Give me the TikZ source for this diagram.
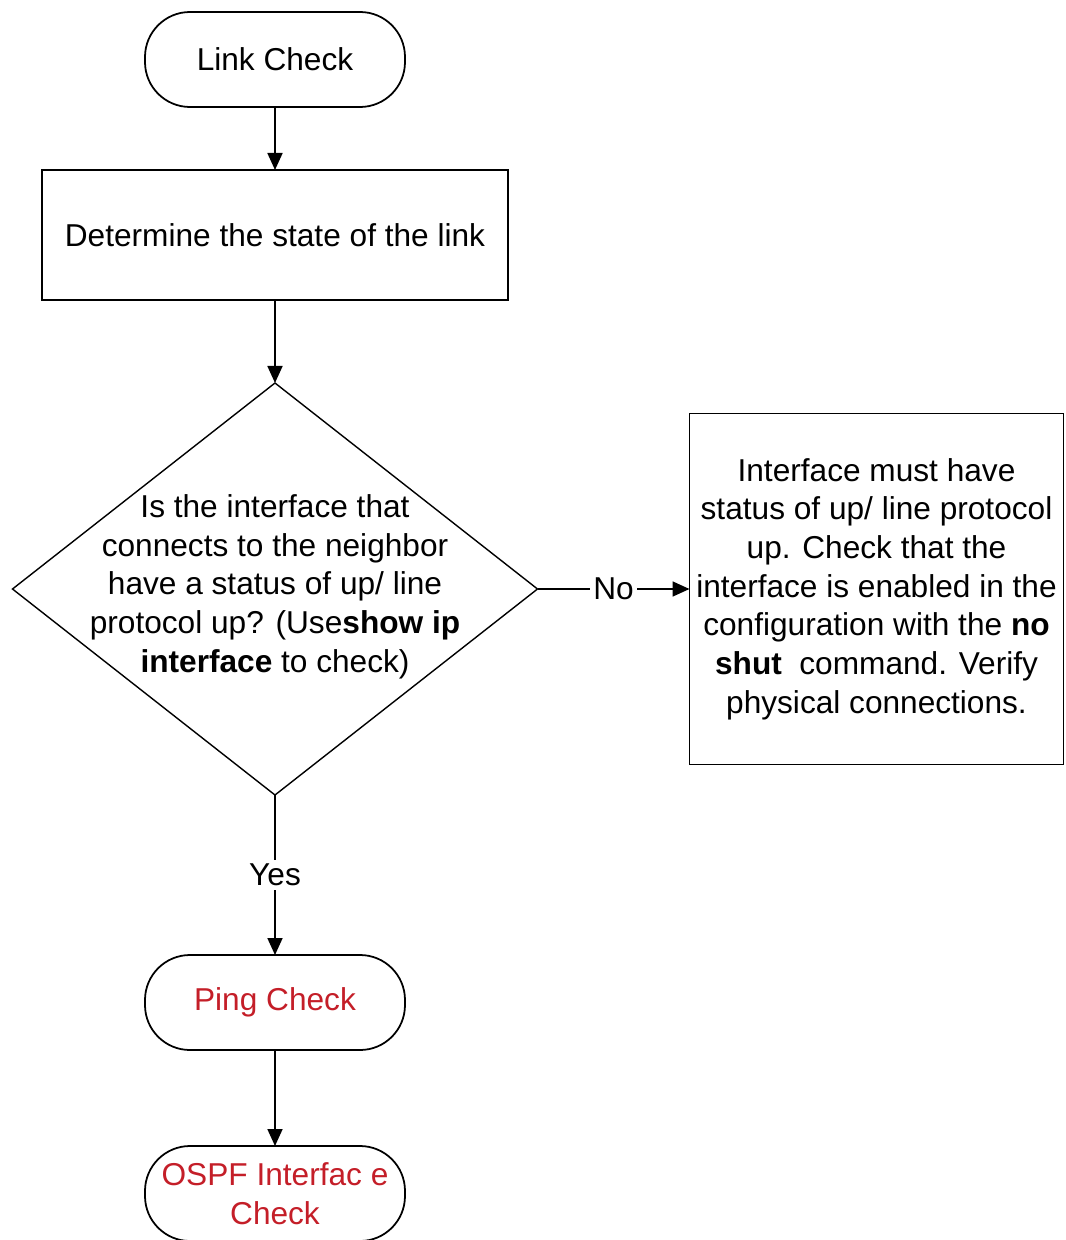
\documentclass[tikz,border=0pt]{standalone}
\usepackage{fontspec}
\setmainfont{Liberation Sans}
\usetikzlibrary{positioning,shapes.geometric,arrows.meta}
\definecolor{chkred}{RGB}{196,30,40}
\tikzstyle{connect}=[-{Triangle[length=0.34cm,width=0.3cm]}, line width=1pt]
\tikzstyle{term}=[draw, line width=1pt, rounded corners=0.9cm, minimum width=5.2cm, minimum height=1.9cm, inner sep=0pt, outer sep=0pt]
\tikzstyle{proc}=[draw, line width=1pt, inner sep=0pt, outer sep=0pt, align=center]
\tikzstyle{decide}=[draw, diamond, line width=0.8pt, minimum width=10.5cm, minimum height=8.24cm, inner sep=0pt, outer sep=0pt]
\tikzstyle{edgelabel}=[fill=white, inner sep=2pt]
\newcommand{\txt}{\fontsize{18}{22}\selectfont}

\begin{document}
\begin{tikzpicture}[font=\txt]

    \useasboundingbox (-5.5,1.19) rectangle (15.8,-23.61);

    % main column
    \node[term] (link) {Link Check};
    \node[proc, below=1.26cm of link, minimum width=9.32cm, minimum height=2.6cm] (state) {Determine the state of the link};
    \node[decide, below=1.66cm of state] (dec) {};
    \node[align=center, yshift=0.05cm] (decq) at (dec) {Is the interface that\\connects to the neighbor\\have a status of up/ line\\protocol up? (Use\textbf{show ip}\\\textbf{interface} to check)};

    % right branch
    \node[proc, right=3.04cm of dec, minimum width=7.48cm, minimum height=7.02cm] (fix) {Interface must have\\status of up/ line protocol\\up. Check that the\\interface is enabled in the\\configuration with the \textbf{no}\\\textbf{shut}\ \ command. Verify\\physical connections.};

    % lower column
    \node[term, below=3.2cm of dec, text=chkred] (ping) {Ping Check};
    \node[term, below=1.92cm of ping, text=chkred, align=center] (ospf) {OSPF Interfac e\\Check};

    % Connect the nodes
    \path
        (link) edge [connect] (state)
        (state) edge [connect] (dec)
        (dec) edge [connect] node[edgelabel] {No} (fix)
        (dec) edge [connect] node[edgelabel] {Yes} (ping)
        (ping) edge [connect] (ospf)
        ;
\end{tikzpicture}
\end{document}
